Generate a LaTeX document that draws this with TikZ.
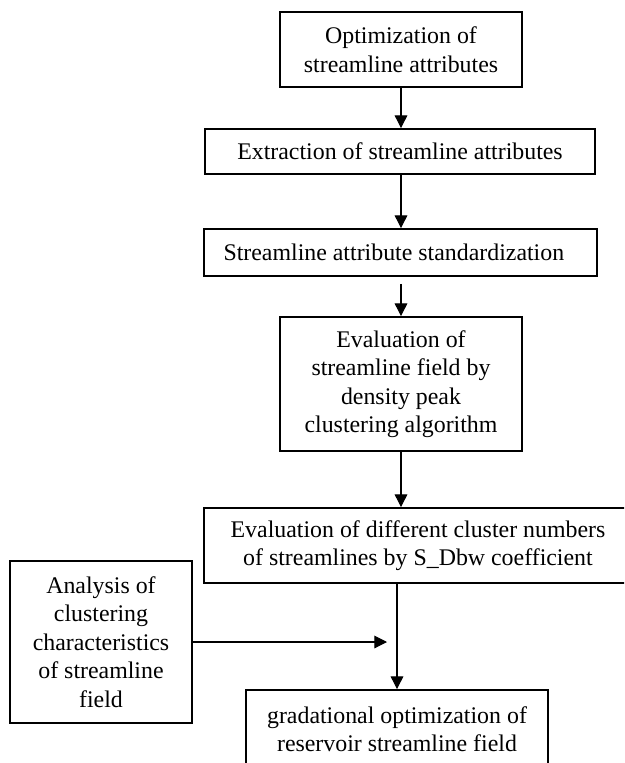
\documentclass[tikz,border=0pt]{standalone}
\usepackage{fontspec}
\setmainfont{Liberation Serif}
\usetikzlibrary{arrows.meta}
\begin{document}
\begin{tikzpicture}[x=0.75pt,y=-0.75pt,
  box/.style={draw, line width=1.4pt, inner sep=0pt, align=center,
    font=\fontsize{17.9}{21.4}\selectfont},
  arr/.style={-{Triangle[length=9.5pt,width=9.5pt]}, line width=0.8pt}]
\useasboundingbox (0,0) rectangle (624,763);
\clip (0,0) rectangle (624,763);
\fill[white] (0,0) rectangle (624,763);
\node[box, minimum width=181.5pt, minimum height=56.25pt] (b1) at (401,49.5)
  {Optimization of\\streamline attributes};
\node[box, minimum width=292.5pt, minimum height=33.75pt] (b2) at (400,151.5)
  {Extraction of streamline attributes};
\node[box, minimum width=294.75pt, minimum height=35.25pt] (b3) at (400.5,252.5)
  {Streamline attribute standardization\hspace{10pt}};
\node[box, minimum width=181.5pt, minimum height=100.5pt] (b4) at (401,384)
  {Evaluation of\\streamline field by\\density peak\\clustering algorithm};
\node[box, minimum width=321pt, minimum height=56.25pt] (b5) at (418,545.5)
  {Evaluation of different cluster numbers\\of streamlines by S\_Dbw coefficient};
\node[box, minimum width=136.5pt, minimum height=121.5pt] (b6) at (101,642)
  {Analysis of\\clustering\\characteristics\\of streamline\\field};
\node[box, minimum width=226.5pt, minimum height=58.5pt] (b7) at (397,729)
  {gradational optimization of\\reservoir streamline field};
\coordinate (m) at (387,642);
\draw[arr] (b1.south) -- (b2.north -| b1.south);
\draw[arr] (b2.south -| b1.south) -- (b3.north -| b1.south);
\draw[arr, shorten <=5.25pt] (b4.north |- b3.south) -- (b4.north);
\draw[arr] (b4.south) -- (b4.south |- b5.north);
\draw[arr] (b7.north |- b5.south) -- (b7.north);
\draw[arr] (b6.east) -- (m);
\end{tikzpicture}
\end{document}
